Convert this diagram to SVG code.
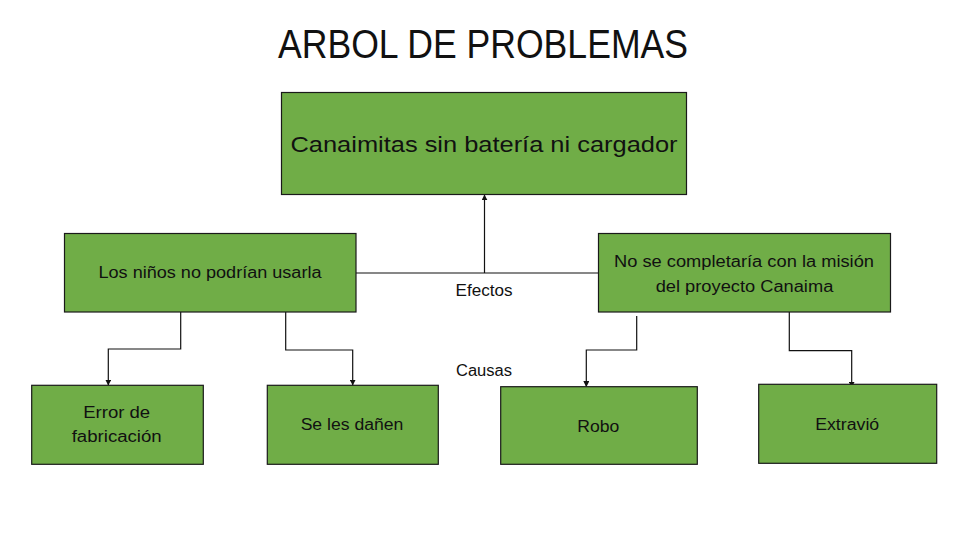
<svg xmlns="http://www.w3.org/2000/svg" width="966" height="542" viewBox="0 0 966 542">
<defs>
<style>
.box{fill:#70AD47;stroke:#1a1a1a;stroke-width:1.2}
.t{font-family:"Liberation Sans","Open Sans",sans-serif;fill:#111;text-anchor:middle}
.s{font-size:16px}
.ln{fill:none;stroke:#111;stroke-width:1.2}
</style>
<marker id="ah" viewBox="0 0 10 10" refX="9" refY="5" markerWidth="6" markerHeight="6" orient="auto" markerUnits="userSpaceOnUse">
<path d="M0,0 L10,5 L0,10 z" fill="#111"/>
</marker>
</defs>
<rect width="966" height="542" fill="#fff"/>
<text class="t" x="483" y="57.5" font-size="40" textLength="410" lengthAdjust="spacingAndGlyphs">ARBOL DE PROBLEMAS</text>

<g id="connectors">
<polyline class="ln" points="356,273 598,273"/>
<polyline class="ln" points="484.5,273 484.5,195" marker-end="url(#ah)"/>
<polyline class="ln" points="180.7,312 180.7,349 108.3,349 108.3,385" marker-end="url(#ah)"/>
<polyline class="ln" points="285.7,312 285.7,350 352.7,350 352.7,385" marker-end="url(#ah)"/>
<polyline class="ln" points="636.7,316 636.7,350 586.3,350 586.3,386.5" marker-end="url(#ah)"/>
<polyline class="ln" points="789.3,312 789.3,350.7 851.7,350.7 851.7,387" marker-end="url(#ah)"/>
<text class="t s" x="484" y="296" textLength="57" lengthAdjust="spacingAndGlyphs">Efectos</text>
<text class="t s" x="484" y="376" textLength="56" lengthAdjust="spacingAndGlyphs">Causas</text>
</g>

<g id="main">
<rect class="box" x="281.5" y="92.5" width="405" height="102"/>
<text class="t" x="484" y="151.5" font-size="22" textLength="387" lengthAdjust="spacingAndGlyphs">Canaimitas sin batería ni cargador</text>
</g>
<g id="efecto1">
<rect class="box" x="64.5" y="233.5" width="291.5" height="78.5"/>
<text class="t s" x="210" y="278" textLength="223" lengthAdjust="spacingAndGlyphs">Los niños no podrían usarla</text>
</g>
<g id="efecto2">
<rect class="box" x="598.5" y="233.5" width="292" height="78.5"/>
<text class="t s" x="744" y="266.5" textLength="260" lengthAdjust="spacingAndGlyphs">No se completaría con la misión</text>
<text class="t s" x="744.5" y="291.5" textLength="177.6" lengthAdjust="spacingAndGlyphs">del proyecto Canaima</text>
</g>
<g id="causa1">
<rect class="box" x="31.7" y="385.3" width="171.6" height="79"/>
<text class="t s" x="116.7" y="418" textLength="67" lengthAdjust="spacingAndGlyphs">Error de</text>
<text class="t s" x="116.7" y="442" textLength="90" lengthAdjust="spacingAndGlyphs">fabricación</text>
</g>
<g id="causa2">
<rect class="box" x="267.3" y="385.3" width="171" height="79"/>
<text class="t s" x="352" y="430" textLength="102.7" lengthAdjust="spacingAndGlyphs">Se les dañen</text>
</g>
<g id="causa3">
<rect class="box" x="500.7" y="386.7" width="196.6" height="77.6"/>
<text class="t s" x="598.3" y="431.5" textLength="42" lengthAdjust="spacingAndGlyphs">Robo</text>
</g>
<g id="causa4">
<rect class="box" x="758.7" y="384.3" width="178" height="79"/>
<text class="t s" x="847.2" y="430" textLength="64" lengthAdjust="spacingAndGlyphs">Extravió</text>
</g>
</svg>
